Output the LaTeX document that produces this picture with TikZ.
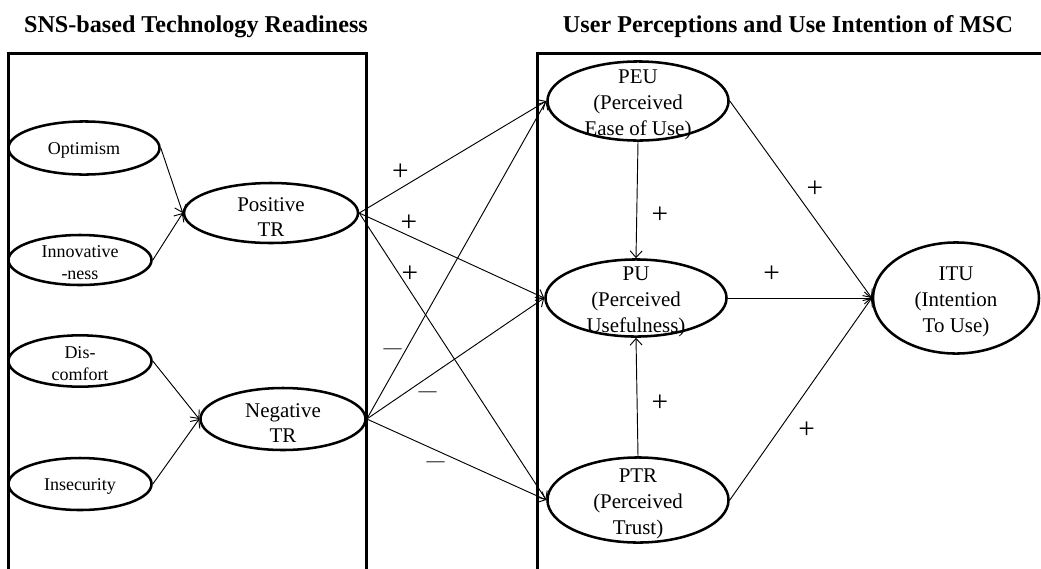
\documentclass[tikz,border=0pt]{standalone}
\usepackage{fontspec}
\setmainfont{Liberation Serif}
\usetikzlibrary{shapes.geometric,arrows.meta}

\begin{document}
\begin{tikzpicture}[x=0.75pt,y=-0.75pt,
    trait/.style={ellipse, draw, line width=1.9pt, inner sep=0pt, minimum width=107.3pt, minimum height=38.5pt},
    latent/.style={ellipse, draw, line width=1.9pt, inner sep=0pt, minimum width=135.8pt},
    lbl/.style={align=center, yshift=-3pt, font=\fontsize{15.7}{19.3}\selectfont},
    smalltext/.style={align=center, yshift=-2pt, font=\fontsize{13.5}{16.6}\selectfont},
    heading/.style={font=\fontsize{18.1}{21}\selectfont\bfseries},
    link/.style={-{Straight Barb[length=5pt,width=9pt]}, line width=0.7pt},
    plus/.style={font=\fontsize{22}{24}\selectfont, inner sep=0pt},
    minus/.style={font=\fontsize{13.5}{16}\selectfont, inner sep=0pt}]
    \clip (0,0) rectangle (1041,568);

    % Headings and frames
    \node[heading] (lefthead) at (196,27) {SNS-based Technology Readiness};
    \node[heading] (righthead) at (788,27) {User Perceptions and Use Intention of MSC};
    \draw[line width=2.25pt] (8.6,53) rectangle (366.7,620);
    \draw[line width=2.25pt] (537,53) rectangle (1100,620);

    % Technology readiness dimensions
    \node[trait, minimum width=113.3pt, minimum height=39.8pt, label={[smalltext]center:Optimism}] (opt) at (84,148) {};
    \node[trait, minimum height=37.5pt, label={[smalltext]center:{Innovative\\-ness}}] (inno) at (80,260) {};
    \node[trait, label={[smalltext]center:{Dis-\\comfort}}] (disc) at (80,361) {};
    \node[trait, minimum height=39pt, label={[smalltext]center:Insecurity}] (insec) at (80,484) {};
    \node[latent, minimum width=130.5pt, minimum height=45pt, label={[lbl]center:{Positive\\TR}}] (postr) at (271,213) {};
    \node[latent, minimum width=123.8pt, minimum height=46.5pt, label={[lbl]center:{Negative\\TR}}] (negtr) at (283,419) {};

    % User perceptions
    \node[latent, minimum height=59.3pt, label={[lbl]center:{PEU\\(Perceived\\Ease of Use)}}] (peu) at (638,101) {};
    \node[latent, minimum height=57.8pt, label={[lbl]center:{PU\\(Perceived\\Usefulness)}}] (pu) at (636,298) {};
    \node[latent, minimum height=63.8pt, label={[lbl]center:{PTR\\(Perceived\\Trust)}}] (ptr) at (638,500) {};
    \node[latent, minimum width=124.5pt, minimum height=83.3pt, label={[lbl]center:{ITU\\(Intention\\To Use)}}] (itu) at (956,298) {};

    \draw[link] (opt.east) -- (postr.west);
    \draw[link] (inno.east) -- (postr.west);
    \draw[link] (disc.east) -- (negtr.west);
    \draw[link] (insec.east) -- (negtr.west);
    \draw[link] (postr.east) -- (peu.west);
    \draw[link] (postr.east) -- (pu.west);
    \draw[link] (postr.east) -- (ptr.west);
    \draw[link] (negtr.east) -- (peu.west);
    \draw[link] (negtr.east) -- (pu.west);
    \draw[link] (negtr.east) -- (ptr.west);
    \draw[link] (peu.south) -- (pu.north);
    \draw[link] (ptr.north) -- (pu.south);
    \draw[link] (peu.east) -- (itu.west);
    \draw[link] (pu.east) -- (itu.west);
    \draw[link] (ptr.east) -- (itu.west);

    % Signs
    \node[plus] (s1) at (400.5,172) {+};
    \node[plus] (s2) at (409,223) {+};
    \node[plus] (s3) at (410,274) {+};
    \node[minus] (s4) at (392.6,351) {—};
    \node[minus] (s5) at (427.7,394.3) {—};
    \node[minus] (s6) at (435.6,463.7) {—};
    \node[plus] (s7) at (660,215) {+};
    \node[plus] (s8) at (815,189) {+};
    \node[plus] (s9) at (771.7,274) {+};
    \node[plus] (s10) at (660,403) {+};
    \node[plus] (s11) at (806.7,430) {+};
\end{tikzpicture}
\end{document}
